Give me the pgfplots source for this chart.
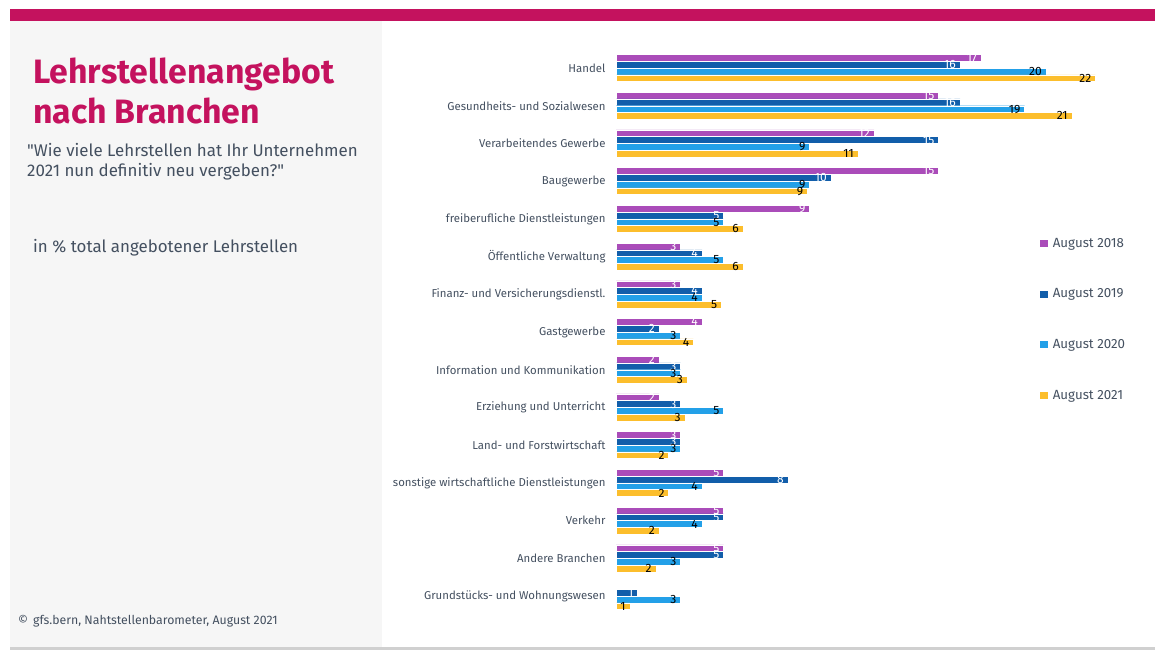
\documentclass[border=0pt]{standalone}
\usepackage{pgfplots}
\pgfplotsset{compat=1.18}
\usepackage{fontspec}
\setmainfont{Fira Sans}
\newfontfamily\qfont{Fira Sans}
\definecolor{cA}{RGB}{170,76,185}
\definecolor{cB}{RGB}{18,94,170}
\definecolor{cC}{RGB}{35,160,232}
\definecolor{cD}{RGB}{252,190,44}
\definecolor{mag}{RGB}{196,18,94}
\definecolor{slate}{RGB}{68,80,96}
\definecolor{panel}{RGB}{246,246,246}
\definecolor{bline}{RGB}{208,208,208}
\begin{document}
\begin{tikzpicture}[x=1pt,y=1pt]
\useasboundingbox (0,0) rectangle (1155,650);
% background elements
\fill[panel] (10,3) rectangle (382,629);
\fill[mag] (10,629) rectangle (1155,641);
\fill[bline] (10,0) rectangle (1155,3);
% left panel text
\node[anchor=base west, inner sep=0pt, text=mag, font=\fontsize{33.8}{33.8}\selectfont\bfseries] at (33,650-84) {Lehrstellenangebot};
\node[anchor=base west, inner sep=0pt, text=mag, font=\fontsize{33.8}{33.8}\selectfont\bfseries] at (33,650-124) {nach Branchen};
\node[anchor=base west, inner sep=0pt, text=slate, font=\fontsize{16.9}{16.9}\selectfont] at (27,650-157) {{\qfont"}Wie viele Lehrstellen hat Ihr Unternehmen};
\node[anchor=base west, inner sep=0pt, text=slate, font=\fontsize{16.9}{16.9}\selectfont] at (27,650-177) {2021 nun definitiv neu vergeben?{\qfont"}};
\node[anchor=base west, inner sep=0pt, text=slate, font=\fontsize{16.9}{16.9}\selectfont] at (33,650-253) {in \% total angebotener Lehrstellen};
\node[anchor=base west, inner sep=0pt, text=slate, font=\fontsize{12.3}{12.3}\selectfont] at (18,650-624) {©\hspace{5pt}gfs.bern, Nahtstellenbarometer, August 2021};
\begin{axis}[
  at={(616pt,35.14pt)}, anchor=south west,
  scale only axis, width=516pt, height=565.7pt,
  xmin=0, xmax=24, ymin=-0.5, ymax=14.5,
  enlargelimits=false,
  xbar, bar width=6.75pt,
  axis line style={draw=none},
  xtick=\empty,
  ytick={0,...,14},
  yticklabels={Grundstücks- und Wohnungswesen, Andere Branchen, Verkehr, sonstige wirtschaftliche Dienstleistungen, Land- und Forstwirtschaft, Erziehung und Unterricht, Information und Kommunikation, Gastgewerbe, Finanz- und Versicherungsdienstl., Öffentliche Verwaltung, freiberufliche Dienstleistungen, Baugewerbe, Verarbeitendes Gewerbe, Gesundheits- und Sozialwesen, Handel},
  yticklabel style={font=\fontsize{11.4}{11.4}\selectfont, text=slate, xshift=-7pt},
  major tick length=0pt,
  clip=false,
  /pgf/number format/assume math mode=true,
  point meta=x,
  nodes near coords={\pgfmathprintnumber[fixed,precision=0]{\pgfplotspointmeta}},
  every node near coord/.append style={anchor=east, inner sep=0pt, xshift=-4pt, font=\fontsize{12}{12}\selectfont},
  legend cell align=left,
  legend style={draw=none, fill=none, at={(0.8162,0.6734)}, anchor=north west,
    font=\fontsize{13.3}{13.3}\selectfont, text=slate, row sep=36pt,
    /tikz/every odd column/.append style={column sep=3pt}},
  legend image code/.code={\fill[#1,draw=none] (0pt,-3.5pt) rectangle (7.5pt,3.5pt);},
]
\addplot[fill=cA, draw=white, line width=0.4pt, bar shift=10.125pt, every node near coord/.append style={text=white}] coordinates {
 (5,1) (5,2) (5,3) (3,4) (2,5) (2,6) (4,7) (3,8) (3,9) (9,10) (15,11) (12,12) (15,13) (17,14)};
\addplot[fill=cB, draw=white, line width=0.4pt, bar shift=3.375pt, every node near coord/.append style={text=white}] coordinates {
 (1,0) (5,1) (5,2) (8,3) (3,4) (3,5) (3,6) (2,7) (4,8) (4,9) (5,10) (10,11) (15,12) (16,13) (16,14)};
\addplot[fill=cC, draw=white, line width=0.4pt, bar shift=-3.375pt, every node near coord/.append style={text=black}] coordinates {
 (3,0) (3,1) (4,2) (4,3) (3,4) (5,5) (3,6) (3,7) (4,8) (5,9) (5,10) (9,11) (9,12) (19,13) (20,14)};
\addplot[fill=cD, draw=white, line width=0.4pt, bar shift=-10.125pt, every node near coord/.append style={text=black}] coordinates {
 (0.64,0) (1.85,1) (2.0,2) (2.45,3) (2.45,4) (3.2,5) (3.3,6) (3.6,7) (4.9,8) (5.9,9) (5.9,10) (8.9,11) (11.25,12) (21.2,13) (22.3,14)};
\legend{August 2018, August 2019, August 2020, August 2021}
\end{axis}
\end{tikzpicture}
\end{document}
